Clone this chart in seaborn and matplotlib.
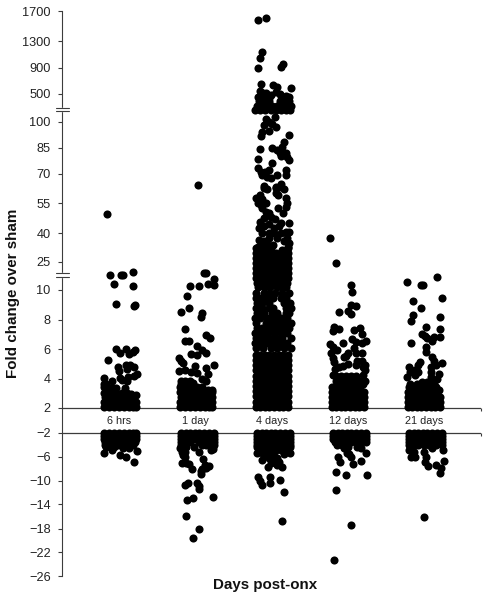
import numpy as np
import pandas as pd
import matplotlib
matplotlib.use('Agg')
import matplotlib.pyplot as plt
import seaborn as sns

days = ['6 hrs', '1 day', '4 days', '12 days', '21 days']

# (jitter, fold change), jitter in pixels around the category
points_6h = [
    (-13, 49.7), (-9.5, 17.9), (1, 18.2), (3, 18.2), (13.5, 19.6), (-5.5, 13.2), (13.5, 12.1),
    (-3.5, 9.07), (14, 8.9), (15.5, 9.0), (-3.5, 6.0), (0, 5.75), (6, 6.0), (9.5, 5.68),
    (13, 5.8), (15.5, 5.93), (-11.5, 5.23), (-2, 4.8), (-1, 4.53), (6.5, 4.92), (7, 4.67),
    (10, 4.9), (14, 4.76), (-15.5, 4.01), (-7.5, 3.83), (0, 4.05), (2, 3.9), (8, 4.12),
    (7, 3.85), (14, 4.17), (17, 4.3), (-7.5, 3.33), (-3.5, 3.38), (5.5, 3.38),
    (-16, 2.05), (-11, 2.05), (-6, 2.05), (-1, 2.05), (4, 2.05), (9, 2.05), (13, 2.05), (16, 2.05),
    (-16, 2.4), (-12, 2.4), (-7, 2.4), (-2, 2.4), (3, 2.4), (8, 2.4), (12, 2.4), (16, 2.4),
    (-15, 2.75), (-11, 2.75), (-6, 2.75), (-1, 2.75), (5, 2.75), (9, 2.75), (13, 2.75), (16, 2.85),
    (-16, 3.05), (-12, 3.05), (-8, 3.0), (-3, 2.95), (2, 3.0), (7, 3.0), (11, 2.95),
    (-16, 3.4), (-13, 3.4), (-9, 3.25), (-16, 3.65), (-14, 3.6),
]
points_6h_neg = [
    (-15.3, -5.45), (-7.3, -4.89), (0, -5.73), (6, -6.12), (14, -6.95), (17.7, -5.06), (3.3, -4.62),
    (9.3, -4.62), (-13.3, -4.34), (-6, -4.3), (-2, -4.1),
    (-16, -2), (-11, -2), (-6, -2), (-1, -2), (4, -2), (9, -2), (13, -2), (16, -2),
    (-16, -2.5), (-11, -2.5), (-6, -2.5), (-1, -2.5), (4, -2.5), (9, -2.5), (13, -2.5), (16, -2.5),
    (-16, -3), (-12, -3), (-7, -3), (-2, -3), (3, -3), (8, -3), (12, -3), (16, -3),
    (-15, -3.5), (-11, -3.5), (-6, -3.5), (-1, -3.5), (4, -3.5), (9, -3.5), (15, -3.5),
    (-15, -4), (-11, -4), (-7, -4), (3, -4), (8, -4), (13, -4),
]
points_1d = [
    (2, 64.2), (8.5, 19.1), (10.5, 19.1), (18, 15.7), (18, 12.5), (12.5, 13.2), (3.3, 12.1),
    (-6, 12.3), (-8.7, 9.57), (-14.7, 8.53), (-6.7, 8.76), (6.7, 8.42), (5, 8.19), (-10.7, 7.36),
    (-10.7, 6.52), (-6.3, 6.52), (10, 6.95), (14.3, 6.72), (1, 6.2), (-5, 5.66), (1, 5.57),
    (6, 5.93), (10.3, 5.75), (-16.3, 5.41), (-15, 5.2), (-13, 5.03), (-1, 4.87), (18.3, 4.9),
    (10.7, 4.71), (-16.3, 4.53), (-10.7, 4.58), (-4.3, 4.42), (1, 4.35), (12.3, 4.3),
    (6.7, 3.95), (10, 3.85),
    (-16, 2.05), (-11, 2.05), (-6, 2.05), (-1, 2.05), (4, 2.05), (9, 2.05), (13, 2.05), (16, 2.05),
    (-16, 2.4), (-12, 2.4), (-7, 2.4), (-2, 2.4), (3, 2.4), (8, 2.4), (12, 2.4), (16, 2.4),
    (-15, 2.75), (-11, 2.75), (-6, 2.75), (-1, 2.75), (5, 2.75), (9, 2.75), (13, 2.75), (16, 2.75),
    (-16, 3.1), (-12, 3.1), (-7, 3.1), (-2, 3.1), (3, 3.1), (8, 3.1), (12, 3.1), (16, 3.1),
    (-16, 3.4), (-12, 3.4), (-8, 3.45), (-4, 3.45), (1, 3.4), (6, 3.4), (-15, 3.85), (-11, 3.85),
    (-6, 3.85), (-15, 3.65), (-10, 3.65), (-3, 3.7), (12, 3.25), (16, 3.25),
]
points_1d_neg = [
    (-10, -15.89), (3.3, -18.1), (-2.3, -19.56), (-8.3, -13.22), (-2.3, -12.89), (17, -12.84),
    (-10.3, -10.78), (-7.7, -10.34), (1, -10.34), (3.3, -10.9), (3.7, -11.45), (-13.3, -7.12),
    (-10, -7), (-6.7, -7.28), (-4, -8.12), (5, -8.95), (6.7, -8.12), (10, -7.95), (13.3, -7.56),
    (7.7, -6.45), (9, -7.39), (5.5, -8.3), (-12.3, -5.73), (-10.7, -6.12), (-13.3, -5.17), (-15.7, -4.62),
    (3.3, -5.28), (15, -4.89), (-11, -5.2), (-1.7, -4.34), (-13, -4.2), (-10, -4.4), (17, -4.7),
    (-14.5, -2), (-10, -2), (-5.5, -2), (-1, -2), (3.5, -2), (8, -2), (13, -2), (18, -2),
    (-14.5, -2.5), (-10, -2.5), (-5.5, -2.5), (-1, -2.5), (3.5, -2.5), (8, -2.5), (13, -2.5), (18, -2.5),
    (-14.5, -3), (-10, -3), (-5.5, -3), (-1, -3), (3.5, -3), (8, -3), (13, -3), (18, -3),
    (-14.5, -3.5), (-10, -3.5), (-5.5, -3.5), (3.5, -3.6), (8, -3.5), (13, -3.5), (18, -3.5),
    (-14.5, -4), (6, -4), (10, -4), (14, -4.1), (18, -4),
]
points_4d = [
    (-14, 1576), (-6, 1603), (-10, 1141), (-12, 1052), (-14, 900), (11.7, 955), (9.3, 919),
    (-10.3, 654), (1.7, 639), (5.7, 603), (19.7, 592), (-12, 551), (-5.3, 511), (-1, 486),
    (4.7, 535), (17.3, 461), (-13.3, 461), (8, 500), (-9, 520),
    (-16.7, 271), (-12, 271), (-6.7, 271), (-1, 271), (4, 271), (9, 271), (14, 271), (18, 271),
    (-15, 330), (-10, 330), (-5, 330), (0, 330), (5, 330), (10, 330), (15, 330), (19, 330),
    (-13, 400), (-8, 400), (-3, 400), (8, 400), (13, 400), (17, 400),
    (-11, 470), (-6, 470), (-3, 450), (9, 470), (14, 470),
    (3, 167), (-5.3, 139), (-2.7, 104), (0.7, 98.8), (4, 97.3), (-7.7, 98.3), (-2.7, 94.8),
    (-10, 94.4), (-10.3, 92), (17.3, 92.5), (12, 88.7), (-12, 84.4), (0.7, 85.2), (10.7, 85.8),
    (5.7, 83.6), (8.3, 82.3), (14.7, 82), (9, 80.4), (17.3, 78), (15.7, 80), (-13.7, 78.8),
    (0, 76.5), (-13.7, 73.3), (-11, 71.3), (-9.3, 69.5), (-6.7, 71.3), (-2.7, 72.3), (-4.3, 68.6),
    (-1, 67.7), (5.7, 69.5), (14, 72.3), (14, 69.5), (-7.7, 62.6), (4, 63.4), (8, 63.1),
    (-7.7, 63.9), (-4.3, 62.1), (9, 64.6), (4.3, 63), (4, 60.2), (6.7, 59), (12.3, 62.4), (14, 57.4),
    (15.7, 55), (14, 53.2), (11.3, 50.2), (6.7, 52.3),
    (-15.3, 57.4), (-12, 59), (-9.3, 57), (-13.3, 55), (-11, 54), (-6, 55), (-9.3, 52.3), (-6, 50.7), (-2.7, 50),
    (-12, 45.3), (-7.7, 47.3), (-1, 47.8), (3.3, 46.8), (9, 45.2), (17.3, 45), (-12.7, 42.7), (-7.7, 43.5),
    (-2.7, 44.3), (2.3, 42.7), (7.3, 43.5), (14, 40.3), (17.3, 40.3), (-9.3, 40), (-2.7, 40), (2.3, 40),
    (9, 40), (15.7, 37.2), (-12.7, 36.4), (-7.7, 35.8), (-2.7, 37.2), (5.7, 37.2), (12.3, 36), (17.3, 35),
    (-14, 33), (-9, 33.8), (-4, 34), (1, 34), (16, 33),
    (-16, 32), (-11, 32), (-6, 32), (-1, 32), (10, 31), (16, 32),
    (-16, 29.4), (-11, 29.4), (-6, 29.4), (-1, 29.4), (4, 29.4), (9, 29.4), (16, 29.4),
    (-16, 27), (-11, 27), (-6, 27), (-1, 27), (4, 27), (9, 27), (13, 27), (16, 27),
    (-16, 24.3), (-11, 24.3), (-6, 24.3), (-1, 24.3), (4, 24.3), (9, 24.3), (13, 24.3), (16, 24.3),
    (-16, 21.6), (-11, 21.6), (-8, 21.6), (-3, 21.6), (2, 21.6), (7, 21.6), (12, 21.6), (16, 21.6),
    (-16, 18.9), (-11, 18.9), (-6, 18.9), (-1, 18.9), (4, 18.9), (9, 18.9), (13, 18.9), (16, 18.9),
    (-16, 16.2), (-11, 16.2), (-6, 16.2), (-1, 16.2), (4, 16.2), (9, 16.2), (13, 16.2), (16, 16.2),
    (-15, 13.6), (-11, 13.6), (-6, 13.6), (-1, 13.6), (4, 13.6), (9, 13.6), (13, 13.6), (15, 13.6),
    (-14, 11.5), (-8, 11.5), (-2, 11.5), (5, 11.5), (10, 11.5), (14, 11.5),
    (-15.3, 9.77), (-7.7, 9.77), (-2.7, 9.77), (3.3, 9.77), (10, 9.77), (17, 9.77),
    (-16, 9.43), (-11, 9.43), (-4.3, 9.43), (1.3, 9.43), (9, 9.43), (14, 9.43),
    (-14.3, 9.1), (-9.3, 9.1), (-2.7, 9.1), (12.3, 9.1), (18, 9.1),
    (-16, 8.76), (-9.3, 8.76), (-2.7, 8.76), (1.3, 8.76), (14, 8.76), (19, 8.76),
    (-14.3, 8.42), (-7.7, 8.42), (0.7, 8.42), (5.7, 8.42), (14, 8.42), (17.3, 8.42),
    (-16.7, 8.08), (-12, 8.08), (-4.3, 8.08), (2.3, 8.08), (9, 8.08), (15.7, 8.08),
    (-16, 7.74), (-6, 7.74), (0.7, 7.74), (7.3, 7.74), (14, 7.74), (19, 7.74),
    (-14.3, 7.4), (-9.3, 7.4), (-2.7, 7.4), (4, 7.4), (10.7, 7.4), (17.3, 7.4),
    (-16.7, 7.06), (-11, 7.06), (-4.3, 7.06), (2.3, 7.06), (9, 7.06), (15.7, 7.06),
    (-15.3, 6.72), (-8.7, 6.72), (-2.7, 6.72), (4, 6.72), (10.7, 6.72), (19, 6.72),
    (-16.7, 6.38), (-11, 6.38), (-4.3, 6.38), (2.3, 6.38), (9, 6.38), (15.7, 6.38),
    (-15.3, 6.04), (-8.7, 6.04), (-1, 6.04), (5.7, 6.04), (12.3, 6.04), (19, 6.04),
    (-16, 5.6), (-11.5, 5.6), (-7, 5.6), (-2.5, 5.6), (2.5, 5.6), (7, 5.6), (11.5, 5.6), (16, 5.6),
    (-16, 5.25), (-11.5, 5.25), (-7, 5.25), (-2.5, 5.25), (2.5, 5.25), (7, 5.25), (11.5, 5.25), (16, 5.25),
    (-16, 4.9), (-11.5, 4.9), (-7, 4.9), (-2.5, 4.9), (2.5, 4.9), (7, 4.9), (11.5, 4.9), (16, 4.9),
    (-16, 4.55), (-11.5, 4.55), (-7, 4.55), (-2.5, 4.55), (2.5, 4.55), (7, 4.55), (11.5, 4.55), (16, 4.55),
    (-16, 4.2), (-11.5, 4.2), (-7, 4.2), (-2.5, 4.2), (2.5, 4.2), (7, 4.2), (11.5, 4.2), (16, 4.2),
    (-16, 3.85), (-11.5, 3.85), (-7, 3.85), (-2.5, 3.85), (2.5, 3.85), (7, 3.85), (11.5, 3.85), (16, 3.85),
    (-16, 3.5), (-11.5, 3.5), (-7, 3.5), (-2.5, 3.5), (2.5, 3.5), (7, 3.5), (11.5, 3.5), (16, 3.5),
    (-16, 3.15), (-11.5, 3.15), (-7, 3.15), (-2.5, 3.15), (2.5, 3.15), (7, 3.15), (11.5, 3.15), (16, 3.15),
    (-16, 2.8), (-11.5, 2.8), (-7, 2.8), (-2.5, 2.8), (2.5, 2.8), (7, 2.8), (11.5, 2.8), (16, 2.8),
    (-16, 2.4), (-11.5, 2.4), (-7, 2.4), (-2.5, 2.4), (2.5, 2.4), (7, 2.4), (11.5, 2.4), (16, 2.4),
    (-16, 2.05), (-11.5, 2.05), (-7, 2.05), (-2.5, 2.05), (2.5, 2.05), (7, 2.05), (11.5, 2.05), (16, 2.05),
]
points_4d_neg = [
    (10, -16.73), (12, -11.89), (8, -9.84), (-1.3, -9.39), (-1.3, -10.39), (-13.3, -9.45),
    (-11.3, -10.06), (-9.3, -10.73), (-3.3, -7.67), (-9.3, -6.56), (10.7, -7.67), (5.7, -7.39),
    (7.3, -6.84), (-1, -6.56), (2.3, -6), (-4.3, -5.73), (0.7, -5.17), (5.7, -6.28), (-2.7, -6.28),
    (4, -6.84), (-1, -7.11), (-14.3, -5.34), (-9.3, -5.34), (12.3, -5.56), (18, -5.34), (9, -4.89),
    (-12, -5), (-4, -5), (3, -5), (14, -5),
    (-14.5, -2), (-10, -2), (-5.5, -2), (-1, -2), (3.5, -2), (8, -2), (13, -2), (18, -2),
    (-14.5, -2.5), (-10, -2.5), (-5.5, -2.5), (-1, -2.5), (3.5, -2.5), (8, -2.5), (13, -2.5), (18, -2.5),
    (-14.5, -3), (-10, -3), (-5.5, -3), (-1, -3), (3.5, -3), (8, -3), (13, -3), (18, -3),
    (-14.5, -3.5), (-10, -3.5), (-5.5, -3.5), (-1, -3.5), (3.5, -3.5), (8, -3.5), (13, -3.5), (18, -3.5),
    (-14.5, -4), (-10, -4), (-5.5, -4), (-1, -4), (3.5, -4), (8, -4), (13, -4), (18, -4),
    (-14.5, -4.3), (-10, -4.3), (-5.5, -4.3), (3.5, -4.4), (8, -4.3), (13, -4.3), (18, -4.3),
]
points_12d = [
    (-18, 37.4), (-12.3, 24.6), (2.7, 12.7), (4, 9.84), (8, 8.9), (2.7, 9), (0.3, 8.6), (2.7, 8.35),
    (-9, 8.49), (-13.7, 7.52), (-9, 7.36), (-15.3, 7.2), (6, 7.27), (12, 7.45), (13.7, 7.02),
    (4, 6.7), (8, 6.5), (18, 6.57), (13.7, 6.39), (-5.3, 6.39), (-18, 6.34), (-15.3, 6.16),
    (-10.7, 5.93), (6, 6.05), (-17.3, 5.71), (-15.3, 5.37), (-14, 5.14), (0.3, 5.71), (-2, 5.53),
    (-4, 5.44), (13.7, 5.75), (8, 5.75), (8.7, 5.2), (13.7, 5.2), (0.3, 4.98), (-5.3, 4.85),
    (8, 4.92), (17, 4.92), (14.7, 4.76), (17, 4.58), (-13, 4.62), (-8.7, 4.76), (15.3, 4.24),
    (17, 3.86), (-14.7, 4.24), (15, 3.6),
    (-12, 4.15), (-7, 4.15), (-2, 4.15), (3, 4.15), (8, 4.15),
    (-12, 3.8), (-8, 3.8), (-3, 3.8), (2, 3.8), (7, 3.8), (11, 3.8),
    (-16, 3.45), (-12, 3.45), (-8, 3.45), (-3, 3.45), (2, 3.45), (7, 3.45), (12, 3.45),
    (-16, 3.1), (-11.5, 3.1), (-7, 3.1), (-2.5, 3.1), (2.5, 3.1), (7, 3.1), (11.5, 3.1), (16, 3.1),
    (-16, 2.75), (-11.5, 2.75), (-7, 2.75), (-2.5, 2.75), (2.5, 2.75), (7, 2.75), (11.5, 2.75), (16, 2.75),
    (-16, 2.4), (-11.5, 2.4), (-7, 2.4), (-2.5, 2.4), (2.5, 2.4), (7, 2.4), (11.5, 2.4), (16, 2.4),
    (-16, 2.05), (-11.5, 2.05), (-7, 2.05), (-2.5, 2.05), (2.5, 2.05), (7, 2.05), (11.5, 2.05), (16, 2.05),
]
points_12d_neg = [
    (-14, -23.33), (3.3, -17.39), (-12, -11.56), (-12, -8.56), (-2, -9.06), (19, -9.06), (5.3, -7.17),
    (13, -6.78), (-8, -6.83), (-10, -6), (2.7, -6), (-0.7, -5.33), (17.7, -5.33), (12.7, -4.6),
    (1, -5.5), (9, -4.3), (-4, -4.6), (0, -4.3),
    (-14.5, -2), (-10, -2), (-5.5, -2), (-1, -2), (3.5, -2), (8, -2), (13, -2), (18, -2),
    (-14.5, -2.5), (-10, -2.5), (-5.5, -2.5), (-1, -2.5), (3.5, -2.5), (8, -2.5), (13, -2.5), (18, -2.5),
    (-14.5, -3), (-10, -3), (-5.5, -3), (-1, -3), (3.5, -3), (8, -3), (13, -3), (18, -3),
    (-13, -3.5), (-10, -3.6), (-5.5, -3.6), (-1, -3.6), (3.5, -3.6), (8, -3.6), (13, -3.5), (18, -3.5),
    (-11, -4), (-6, -4), (-2, -4.1),
]
points_21d = [
    (-17.3, 14.1), (-3, 12.7), (-1, 12.7), (13, 17.1), (17.7, 9.46), (-11.3, 9.28), (-3.3, 8.78),
    (-11.3, 8.28), (-13.3, 7.88), (16, 8.17), (16, 7.34), (2.3, 7.49), (16, 6.79), (10, 6.79),
    (7.7, 6.54), (-2.3, 7), (1, 6.9), (3.3, 6.73), (-13.3, 6.43), (2, 6.11), (2, 5.82), (7.7, 5.48),
    (10, 5.21), (12, 4.92), (17.7, 5.03), (-4, 5.1), (-5.7, 4.92), (-14.7, 4.8), (6.7, 4.8), (-9, 4.58),
    (-5.7, 4.47), (6.7, 4.47), (-14, 4.47), (-16.7, 4.08), (-9, 4.24), (15.3, 4.3), (13.3, 4),
    (6.7, 4.12), (2.7, 3.79), (-2.3, 3.79), (9, 3.8),
    (-14, 3.65), (-7, 3.6), (5, 3.65), (10, 3.6),
    (-15, 3.4), (-12, 3.4), (-8, 3.4), (-3, 3.4), (2, 3.4), (7, 3.4), (12, 3.4),
    (-16, 3.1), (-11.5, 3.1), (-7, 3.1), (-2.5, 3.1), (2.5, 3.1), (7, 3.1), (11.5, 3.1), (15, 3.2),
    (-16, 2.75), (-11.5, 2.75), (-7, 2.75), (-2.5, 2.75), (1, 2.75), (5, 2.8), (11.5, 2.75), (16, 2.75),
    (-16, 2.4), (-11.5, 2.4), (-7, 2.4), (-2.5, 2.4), (2.5, 2.4), (7, 2.4), (11.5, 2.4), (16, 2.4),
    (-16, 2.05), (-11.5, 2.05), (-7, 2.05), (-2.5, 2.05), (2.5, 2.05), (7, 2.05), (11.5, 2.05), (16, 2.05),
]
points_21d_neg = [
    (0.3, -16.11), (16, -8.78), (16.7, -7.95), (12.3, -7.39), (20, -6.78), (4.3, -7.56), (1, -6.83),
    (1.7, -6), (-13.3, -6), (-9.3, -6), (8.3, -4.6), (19, -4.89), (-15, -4.89), (-10, -5.2), (0, -5.2),
    (-14.5, -2), (-10, -2), (-5.5, -2), (-1, -2), (3.5, -2), (8, -2), (13, -2), (18.5, -2),
    (-14.5, -2.5), (-10, -2.5), (-5.5, -2.5), (-1, -2.5), (3.5, -2.5), (8, -2.5), (13, -2.5), (18.5, -2.5),
    (-14.5, -3), (-10, -3), (-5.5, -3), (-1, -3), (3.5, -3), (8, -3), (13, -3), (18.5, -3),
    (-14.5, -3.5), (-10, -3.5), (-5.5, -3.5), (-1, -3.5), (3.5, -3.5), (8, -3.5), (13, -3.5), (18.5, -3.5),
    (-14.5, -4), (-10, -4), (-5.5, -4), (0, -4), (5, -4), (12, -4), (18.5, -4),
]

y_ticks = [-26, -22, -18, -14, -10, -6, -2, 2, 4, 6, 8, 10, 25, 40, 55, 70, 85, 100, 500, 900, 1300, 1700]
# where each tick sits on the page, the axis is broken and not linear
y_tick_pixels = [576.3, 552.3, 528.7, 504.3, 480.7, 456.7, 432.7, 408, 378.5, 349, 319.5, 290, 262, 233, 203, 174,
                 148, 122, 94, 68, 41, 11]


def forward(v):
    return -np.interp(v, y_ticks, y_tick_pixels)


def inverse(p):
    return np.interp(-np.asarray(p), y_tick_pixels[::-1], y_ticks[::-1])


rows = []
groups = [points_6h + points_6h_neg, points_1d + points_1d_neg, points_4d + points_4d_neg,
          points_12d + points_12d_neg, points_21d + points_21d_neg]
for i, group in enumerate(groups):
    for jitter, fold in group:
        rows.append({'x': i + jitter / 76.1, 'fold': fold})
df = pd.DataFrame(rows)

sns.set_style('white')
plt.rcParams['font.family'] = ['Liberation Sans', 'DejaVu Sans']

W, H = 488, 600
fig = plt.figure(figsize=(W / 100, H / 100), dpi=100)
ax = fig.add_axes([62.5 / W, 1 - 576.3 / H, (481 - 62.5) / W, (576.3 - 11) / H])
ax.set_yscale('function', functions=(forward, inverse))

sns.scatterplot(data=df, x='x', y='fold', color='black', s=34, linewidth=0, ax=ax, clip_on=False, zorder=3)

line_color = '#3c3c3c'
ax.set_xlim((62.5 - 119.5) / 76.1, (481 - 119.5) / 76.1)
ax.set_ylim(-26, 1700)
for side in ['top', 'right', 'bottom']:
    ax.spines[side].set_visible(False)
ax.spines['left'].set_color(line_color)
ax.spines['left'].set_linewidth(0.8)

ax.set_yticks(y_ticks)
ax.set_yticklabels([str(t).replace('-', '\u2212') for t in y_ticks], fontsize=9.2, color='#222222')
ax.minorticks_off()
ax.tick_params(axis='y', left=True, length=3, width=0.8, color=line_color, pad=5.5)
ax.set_xticks([])
ax.set_xlabel('')
ax.set_ylabel('')

# the two baselines, with a small tick at each end
for base, tick_end in [(2, 1.5), (-2, -2.55)]:
    ax.axhline(base, color=line_color, lw=0.9, zorder=2)
    ax.vlines(ax.get_xlim()[1], tick_end, base, color=line_color, lw=0.8, clip_on=False)

for i, day in enumerate(days):
    ax.text(i, -0.1, day, ha='center', va='center', fontsize=7.8, color='#222222')

# axis break marks
trans = ax.get_yaxis_transform()
for low, high in [(257, 304), (16.8, 19)]:
    ax.fill_between([-0.004, 0.004], low, high, color='white', transform=trans, clip_on=False, zorder=4)
    for b in (low, high):
        ax.plot([-0.016, 0.016], [b, b], color=line_color, lw=0.8, transform=trans, clip_on=False, zorder=5)

fig.text(13 / W, 1 - 293 / H, 'Fold change over sham', rotation=90, ha='center', va='center',
         fontsize=10.9, fontweight='bold', color='#111111')
fig.text(265 / W, 1 - 585 / H, 'Days post-onx', ha='center', va='center',
         fontsize=10.9, fontweight='bold', color='#111111')

fig.savefig('out.png', dpi=100)
